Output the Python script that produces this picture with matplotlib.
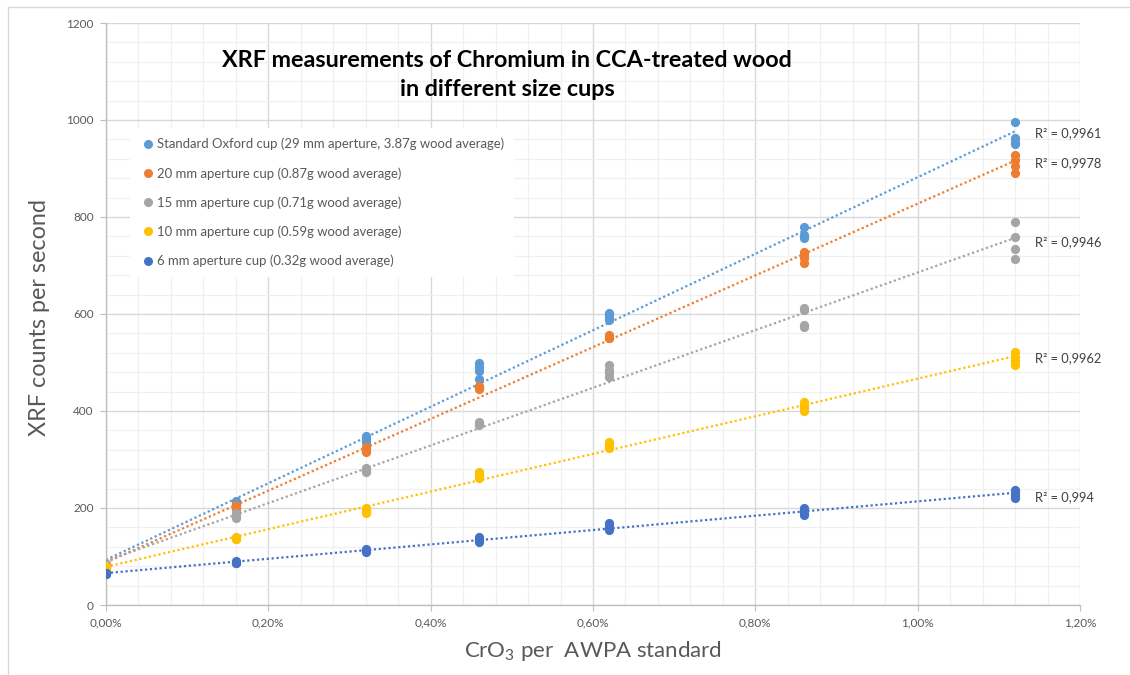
import matplotlib
matplotlib.use("Agg")
import matplotlib.pyplot as plt
import numpy as np
from matplotlib.ticker import MultipleLocator, FuncFormatter
from matplotlib.lines import Line2D

plt.rcParams['font.family'] = ['Lato', 'DejaVu Sans']
plt.rcParams['mathtext.fontset'] = 'custom'
plt.rcParams['mathtext.rm'] = 'Lato'
plt.rcParams['mathtext.it'] = 'Lato:italic'
plt.rcParams['mathtext.bf'] = 'Lato:bold'

# ---------------- data ----------------
conc = [0.00, 0.16, 0.32, 0.46, 0.62, 0.86, 1.12]  # CrO3 % per AWPA standard

oxford = [[85, 84, 83, 82],
          [215, 212, 208, 205],
          [348, 344, 340, 336],
          [500, 490, 482, 465],
          [602, 597, 592, 587],
          [779, 762, 757, 760],
          [996, 963, 955, 950]]
cup20 = [[83, 82, 80, 79],
         [206, 202, 200, 198],
         [326, 322, 318, 316],
         [452, 450, 448, 446],
         [557, 554, 551, 550],
         [728, 722, 716, 705],
         [928, 918, 906, 890]]
cup15 = [[84, 82, 80, 78],
         [190, 186, 182, 180],
         [283, 280, 276, 274],
         [378, 376, 374, 372],
         [495, 485, 478, 470],
         [612, 608, 578, 573],
         [790, 759, 734, 713]]
cup10 = [[80, 78, 76, 74],
         [140, 138, 137, 136],
         [200, 196, 192, 190],
         [275, 270, 265, 262],
         [337, 332, 327, 323],
         [419, 413, 406, 400],
         [522, 512, 503, 495]]
cup6 = [[67, 65, 64, 63],
        [90, 88, 87, 86],
        [115, 113, 111, 110],
        [141, 137, 133, 130],
        [170, 165, 160, 155],
        [200, 195, 190, 186],
        [237, 232, 226, 220]]

labels = ["Standard Oxford cup (29 mm aperture, 3.87g wood average)",
          "20 mm aperture cup (0.87g wood average)",
          "15 mm aperture cup (0.71g wood average)",
          "10 mm aperture cup (0.59g wood average)",
          "6 mm aperture cup (0.32g wood average)"]
r2_text = ["0,9961", "0,9978", "0,9946", "0,9962", "0,994"]

series = [oxford, cup20, cup15, cup10, cup6]
colors = ["#5B9BD5", "#ED7D31", "#A5A5A5", "#FFC000", "#4472C4"]
# label vertical offsets (counts) relative to trend value at end
r2_offsets = [-4, -5, -9, -5, -9]

# ---------------- figure ----------------
W, H = 1130, 675
fig = plt.figure(figsize=(W / 100, H / 100), dpi=100)
ax = fig.add_axes([106 / W, 1 - 605 / H, (1080 - 106) / W, (605 - 23) / H])

ax.set_xlim(0, 1.2)
ax.set_ylim(0, 1200)

ax.xaxis.set_major_locator(MultipleLocator(0.2))
ax.xaxis.set_minor_locator(MultipleLocator(0.04))
ax.yaxis.set_major_locator(MultipleLocator(200))
ax.yaxis.set_minor_locator(MultipleLocator(40))
ax.grid(True, which='major', color='#D9D9D9', linewidth=1.0, zorder=0)
ax.grid(True, which='minor', color='#F0F0F0', linewidth=0.9, zorder=0)
ax.set_axisbelow(True)

for side in ['top', 'right']:
    ax.spines[side].set_visible(False)
for side in ['left', 'bottom']:
    ax.spines[side].set_color('#BFBFBF')
    ax.spines[side].set_linewidth(1.0)

ax.tick_params(axis='both', which='major', length=4, color='#BFBFBF',
               labelcolor='#595959', labelsize=8.5)
ax.tick_params(axis='both', which='minor', length=0)
ax.tick_params(axis='x', pad=5)
ax.tick_params(axis='y', pad=5)
ax.xaxis.set_major_formatter(FuncFormatter(lambda v, p: f"{v:.2f}%".replace('.', ',')))
ax.yaxis.set_major_formatter(FuncFormatter(lambda v, p: f"{v:.0f}"))

xfit = np.array([0.0, max(conc)])
for vals, col, r2, off in zip(series, colors, r2_text, r2_offsets):
    xs = np.repeat(conc, [len(v) for v in vals])
    ys = np.concatenate([np.asarray(v, float) for v in vals])
    ax.scatter(xs, ys, s=44, color=col, zorder=3, linewidths=0)
    k, b = np.polyfit(xs, ys, 1)
    ax.plot(xfit, k * xfit + b, linestyle=(0, (1, 1.2)), color=col, linewidth=1.6, zorder=2)
    ax.text(1.1446, k * xfit[-1] + b + off, "R² = " + r2, fontsize=9.3,
            color='#404040', va='center', ha='left', zorder=4)

handles = [Line2D([], [], marker='o', linestyle='none', markersize=6.5,
                  markerfacecolor=c, markeredgewidth=0) for c in colors]
leg = ax.legend(handles, labels, loc='upper left',
                bbox_to_anchor=((130 - 106) / 974, (605 - 128) / 582),
                frameon=True, fancybox=False, framealpha=1.0,
                facecolor='white', edgecolor='none', fontsize=9.45,
                labelspacing=1.27, handletextpad=0.05, handlelength=1.25,
                borderpad=0.75, borderaxespad=0)
for t in leg.get_texts():
    t.set_color('#595959')

fig.text(507 / W, 1 - 75 / H,
         "XRF measurements of Chromium in CCA-treated wood\nin different size cups",
         ha='center', va='center', fontsize=16.8, fontweight='bold', color='black',
         linespacing=1.42)

fig.text(40 / W, 1 - 317 / H, "XRF counts per second", rotation=90,
         ha='center', va='center', fontsize=16.8, color='#595959')
fig.text(593 / W, 1 - 651 / H, "CrO$_3$ per  AWPA standard",
         ha='center', va='center', fontsize=16, color='#595959')

# outer chart border (partially cropped in reference)
fig.add_artist(Line2D([8 / W, 1.0], [1 - 7 / H, 1 - 7 / H], color='#D9D9D9', linewidth=1.0))
fig.add_artist(Line2D([8 / W, 8 / W], [0.0, 1 - 7 / H], color='#D9D9D9', linewidth=1.0))

fig.savefig("out.png", dpi=100, facecolor='white')
